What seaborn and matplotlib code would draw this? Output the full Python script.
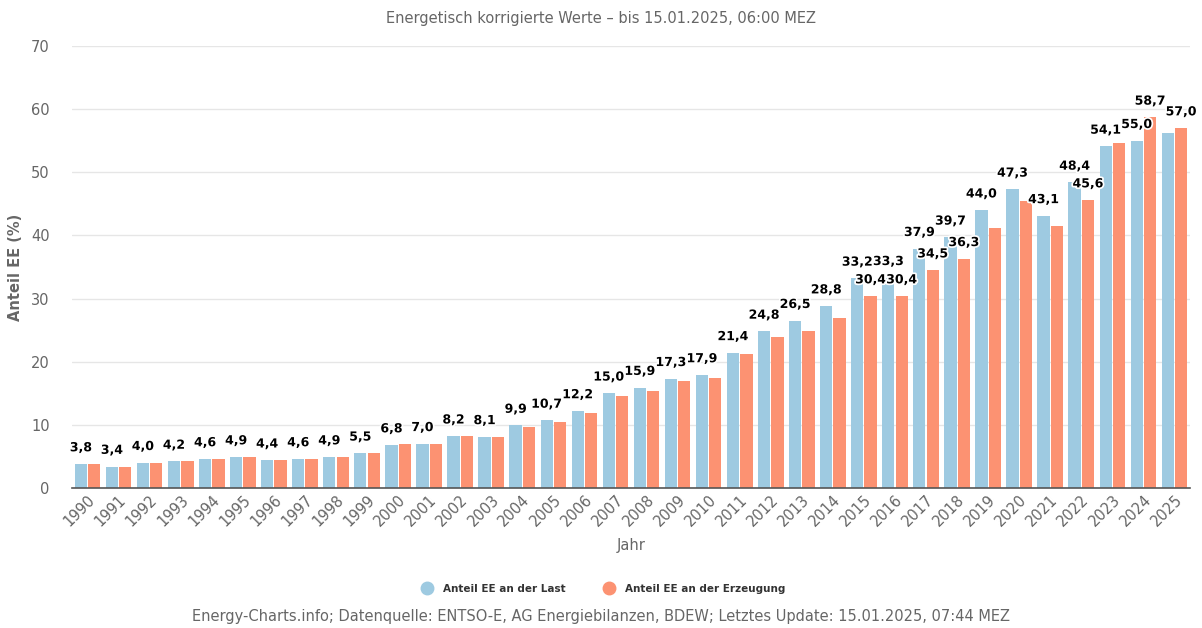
import matplotlib.pyplot as plt
import matplotlib.patheffects as pe
from matplotlib.lines import Line2D
import seaborn as sns
import pandas as pd

sns.set_theme(style="white")
plt.rcParams['font.family'] = ['DejaVu Sans']

years = list(range(1990, 2026))
anteil_last = [3.8, 3.4, 4.0, 4.2, 4.6, 4.9, 4.4, 4.6, 4.9, 5.5,
               6.8, 7.0, 8.2, 8.1, 9.9, 10.7, 12.2, 15.0, 15.9, 17.3,
               17.9, 21.4, 24.8, 26.5, 28.8, 33.2, 33.3, 37.9, 39.7, 44.0,
               47.3, 43.1, 48.4, 54.1, 55.0, 56.3]
anteil_erzeugung = [3.8, 3.4, 4.0, 4.2, 4.6, 4.9, 4.4, 4.6, 4.9, 5.6,
                    7.0, 7.0, 8.2, 8.1, 9.7, 10.5, 11.8, 14.6, 15.4, 17.0,
                    17.5, 21.2, 23.9, 24.9, 27.0, 30.4, 30.4, 34.5, 36.3, 41.2,
                    45.4, 41.5, 45.6, 54.7, 58.7, 57.0]

# labels that stay visible (the rest are hidden because they overlap)
shown_last = [y for y in years if y != 2025]
shown_erzeugung = [2015, 2016, 2017, 2018, 2022, 2024, 2025]

series_names = ["Anteil EE an der Last", "Anteil EE an der Erzeugung"]
colors = {series_names[0]: "#9ecae1", series_names[1]: "#fc9272"}

df = pd.DataFrame({
    "Jahr": [str(y) for y in years] * 2,
    "Anteil": anteil_last + anteil_erzeugung,
    "Serie": [series_names[0]] * len(years) + [series_names[1]] * len(years),
})

fig = plt.figure(figsize=(12.02, 6.28), dpi=100)
ax = fig.add_axes([72 / 1202, 140 / 628, 1118 / 1202, 442 / 628])

sns.barplot(data=df, x="Jahr", y="Anteil", hue="Serie", palette=colors,
            saturation=1, width=0.86, gap=0.08, linewidth=0, legend=False, ax=ax)

ax.set_xlim(-0.5, len(years) - 0.5)
ax.set_ylim(0, 70)
ax.set_yticks(range(0, 71, 10))
ax.yaxis.grid(True, color="#e6e6e6", linewidth=1)
ax.set_axisbelow(True)
for s in ["top", "right", "left"]:
    ax.spines[s].set_visible(False)
ax.spines["bottom"].set_color("#555555")
ax.spines["bottom"].set_linewidth(1.2)

ax.tick_params(axis="y", length=0, pad=16, labelsize=10.5, labelcolor="#666666")
ax.tick_params(axis="x", length=0, pad=3, labelsize=10.5, labelcolor="#666666")
plt.setp(ax.get_xticklabels(), rotation=45, ha="right", rotation_mode="anchor")

ax.set_xlabel("Jahr", fontsize=10.5, color="#666666", labelpad=6)
ax.set_ylabel("Anteil EE (%)", fontsize=10.5, color="#666666",
              fontweight="bold", labelpad=6)

def fmt(v):
    return f"{v:.1f}".replace(".", ",")

outline = [pe.withStroke(linewidth=2.5, foreground="white")]
for cont, vals, shown in [(ax.containers[0], anteil_last, shown_last),
                          (ax.containers[1], anteil_erzeugung, shown_erzeugung)]:
    labels = [fmt(v) if y in shown else "" for y, v in zip(years, vals)]
    texts = ax.bar_label(cont, labels=labels, padding=7, fontsize=9,
                         fontweight="bold", color="#000000")
    for t in texts:
        t.set_path_effects(outline)

fig.text(0.5, 1 - 18 / 628, "Energetisch korrigierte Werte – bis 15.01.2025, 06:00 MEZ",
         ha="center", va="center", fontsize=10.5, color="#666666")

handles = [Line2D([], [], marker="o", linestyle="none", markersize=9,
                  markerfacecolor=colors[n], markeredgecolor=colors[n]) for n in series_names]
fig.legend(handles, series_names, loc="center", bbox_to_anchor=(0.5, 1 - 589 / 628),
           ncol=2, frameon=False, handletextpad=0.5, columnspacing=3.2,
           prop={"size": 7.5, "weight": "bold"}, labelcolor="#333333")

fig.text(0.5, 1 - 617 / 628,
         "Energy-Charts.info; Datenquelle: ENTSO-E, AG Energiebilanzen, BDEW; Letztes Update: 15.01.2025, 07:44 MEZ",
         ha="center", va="center", fontsize=10.5, color="#666666")

fig.savefig("out.png", dpi=100)
